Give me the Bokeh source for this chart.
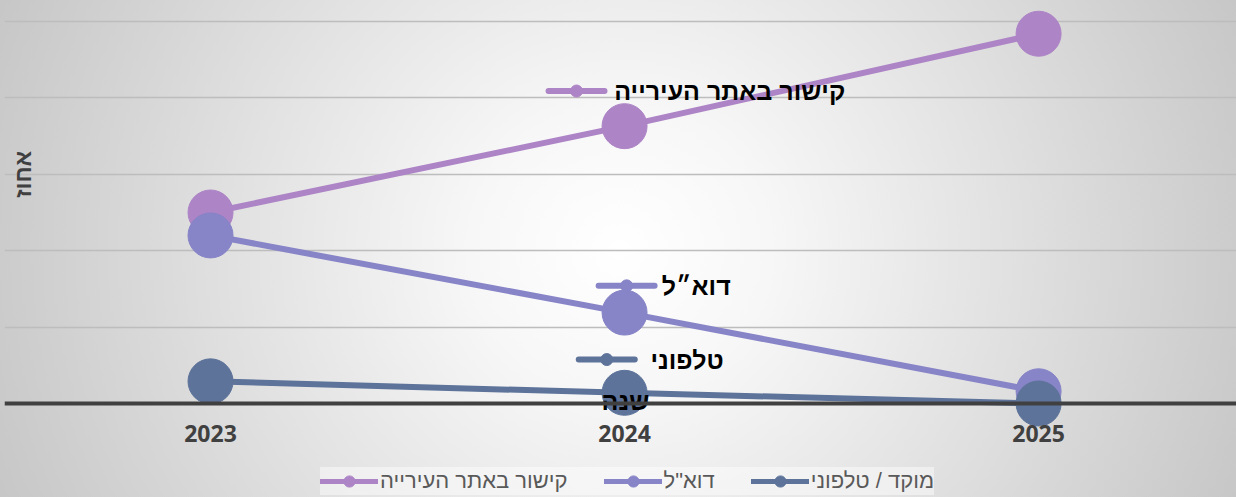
import math
from bokeh.plotting import figure
from bokeh.models import (Range1d, LinearAxis, FixedTicker, Grid, Legend,
                          LegendItem, Label)
from bokeh.core.properties import value
from bokeh.embed import file_html
from bokeh.resources import INLINE

# ---------------- data ----------------
years = [2023, 2024, 2025]
series_names = ["קישור באתר העירייה", 'דוא"ל', "מוקד / טלפוני"]
link_values = [25.0, 36.3, 48.4]
email_values = [22.0, 11.9, 1.6]
phone_values = [2.9, 1.4, 0.0]
series_values = [link_values, email_values, phone_values]
inline_labels = ["קישור באתר העירייה", "דוא״ל", "טלפוני"]
grid_values = [10, 20, 30, 40, 50]
x_title = "שנה"
y_title = "אחוז"

# ---------------- style ----------------
colors = ["#AD84C6", "#8784C7", "#5D739A"]
key_x = [2023.884, 2024.005, 2023.957]      # inline key marker centers
key_y = [40.9, 15.4, 5.75]
key_text_x = [2024.254, 2024.173, 2024.151]
key_half = 0.0676
HEB_FONT = "Liberation Sans"
NAN = float("nan")

p = figure(width=1236, height=497,
           x_range=Range1d(2022.5024, 2025.478),
           y_range=Range1d(-12.303, 52.749),
           output_backend="svg", toolbar_location=None,
           x_axis_location=None, y_axis_location=None,
           min_border=0, min_border_left=4)
p.background_fill_alpha = 0
p.border_fill_alpha = 0
p.outline_line_color = None
p.styles = {"background": "radial-gradient(ellipse 680px 650px at 620px 250px, "
                          "#ffffff 0%, #f7f7f7 22%, #c6c6c6 100%)"}

# drop default grids, add our own horizontal gridlines
p.center = [r for r in p.center if not isinstance(r, Grid)]
p.add_layout(Grid(dimension=1, ticker=FixedTicker(ticks=grid_values),
                  grid_line_color="#bdbdbd", grid_line_width=1.5))

xaxis = LinearAxis(fixed_location=0, ticker=FixedTicker(ticks=years),
                   axis_line_color="#404040", axis_line_width=4,
                   major_tick_line_color=None, minor_tick_line_color=None,
                   major_label_text_font="Open Sans",
                   major_label_text_font_style="bold",
                   major_label_text_font_size="23px",
                   major_label_text_color="#404040",
                   major_label_standoff=15)
p.add_layout(xaxis, "below")

# series
for vals, c in zip(series_values, colors):
    p.line(x=years, y=vals, line_color=c, line_width=6)
    p.scatter(x=years, y=vals, size=45, fill_color=c, line_color=c)

# inline keys
for i, (lab, c) in enumerate(zip(inline_labels, colors)):
    p.segment(x0=[key_x[i] - key_half], y0=[key_y[i]],
              x1=[key_x[i] + key_half], y1=[key_y[i]],
              line_color=c, line_width=6, line_cap="round")
    p.scatter(x=[key_x[i]], y=[key_y[i]], size=12, fill_color=c, line_color=c)
p.text(x=key_text_x, y=key_y, text=inline_labels,
       text_font=value(HEB_FONT), text_font_style="bold",
       text_font_size="25px", text_color="black",
       text_align="center", text_baseline="middle")

# x title (placed on chart)
p.text(x=[2024.002], y=[0.39], text=[x_title],
       text_font=value(HEB_FONT), text_font_style="bold",
       text_font_size="25px", text_color="black",
       text_align="center", text_baseline="middle")

# y title
p.add_layout(Label(x=2022.548, y=30, text=y_title, angle=math.pi / 2,
                   text_align="center", text_baseline="middle",
                   text_font=HEB_FONT, text_font_style="bold",
                   text_font_size="23px", text_color="#404040"))

# bottom legend (proxy renderers with no visible data)
items = []
for name, c in zip(series_names, colors):
    lr = p.line(x=[NAN], y=[NAN], line_color=c, line_width=5, line_cap="round")
    sr = p.scatter(x=[NAN], y=[NAN], size=10, fill_color=c, line_color=c)
    items.append(LegendItem(label=name, renderers=[lr, sr]))
legend = Legend(items=items, orientation="horizontal", location=(316, 2),
                glyph_width=58, glyph_height=28, label_standoff=2,
                spacing=36, padding=18, margin=0,
                background_fill_color="#ffffff", background_fill_alpha=0.45,
                border_line_color=None,
                label_text_font=HEB_FONT, label_text_font_size="22px",
                label_text_color="#595959")
p.add_layout(legend)

open("out.html", "w").write(file_html(p, INLINE))
